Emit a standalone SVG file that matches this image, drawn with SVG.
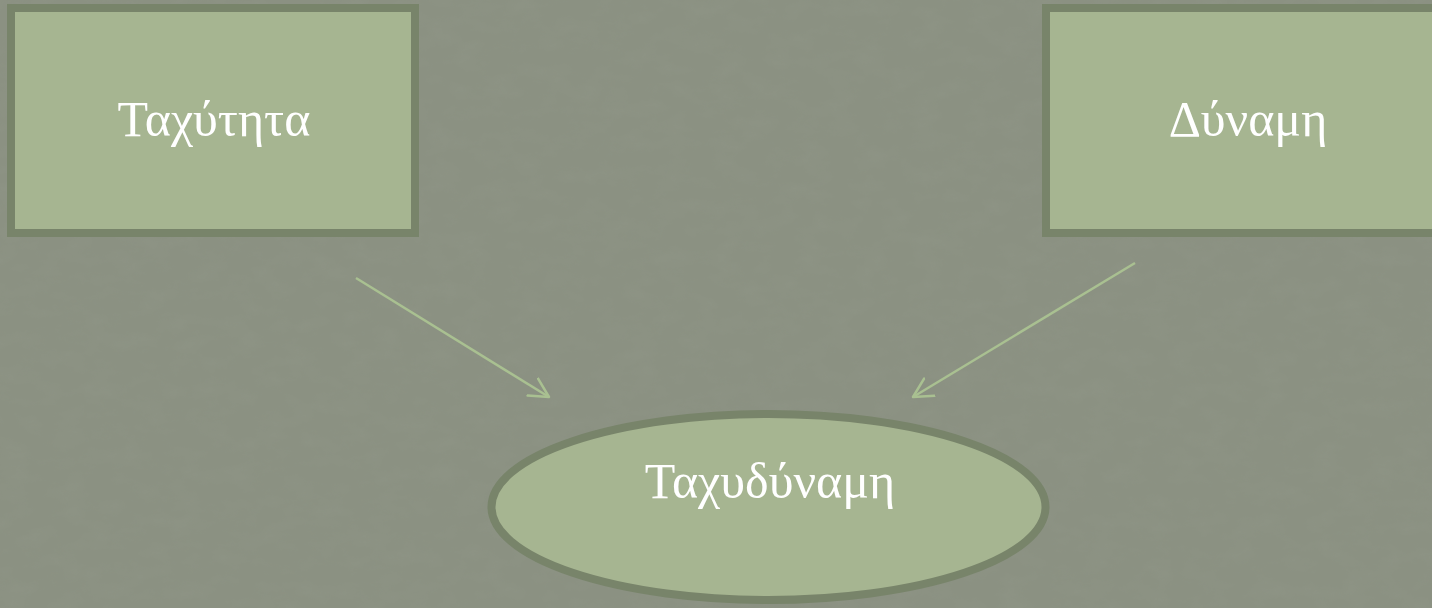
<svg xmlns="http://www.w3.org/2000/svg" width="1432" height="608" viewBox="0 0 1432 608">
  <defs>
    <!-- mottled paper grain for the backdrop -->
    <filter id="grain" x="0" y="0" width="100%" height="100%">
      <feTurbulence type="fractalNoise" baseFrequency="0.035 0.06" numOctaves="4" seed="11" result="n"/>
      <feColorMatrix in="n" type="matrix" values="0 0 0 0 0.33  0 0 0 0 0.36  0 0 0 0 0.30  0 0 0 0.6 -0.22"/>
    </filter>
    <marker id="arrow" markerUnits="userSpaceOnUse" markerWidth="26" markerHeight="26" refX="20" refY="11" orient="auto" viewBox="0 0 26 22">
      <path d="M1,1 L20,11 L1,21" fill="none" stroke="#a9c091" stroke-width="2.5" stroke-linecap="round" stroke-linejoin="round"/>
    </marker>
    <style>
      .box { fill: #a6b591; stroke: #78846a; stroke-width: 8; }
      .label { font-family: "Liberation Serif", "DejaVu Serif", serif; font-size: 50px; fill: #ffffff; text-anchor: middle; }
      .link { stroke: #a9c091; stroke-width: 2.5; fill: none; marker-end: url(#arrow); }
    </style>
  </defs>

  <!-- textured backdrop -->
  <rect x="0" y="0" width="1432" height="608" fill="#8b9182"/>
  <rect x="0" y="0" width="1432" height="608" filter="url(#grain)" opacity="0.45"/>

  <g id="connectors">
    <line class="link" x1="356" y1="278" x2="549" y2="397"/>
    <line class="link" x1="1135" y1="263" x2="913" y2="397"/>
  </g>

  <g id="node-taxytita">
    <rect class="box" x="11" y="8" width="404" height="225"/>
    <text class="label" x="214" y="136">Ταχύτητα</text>
  </g>

  <g id="node-dynami">
    <rect class="box" x="1046" y="8" width="404" height="225"/>
    <text class="label" x="1248" y="136">Δύναμη</text>
  </g>

  <g id="node-taxydynami">
    <ellipse class="box" cx="768.5" cy="507" rx="277" ry="93"/>
    <text class="label" x="770" y="498">Ταχυδύναμη</text>
  </g>
</svg>
